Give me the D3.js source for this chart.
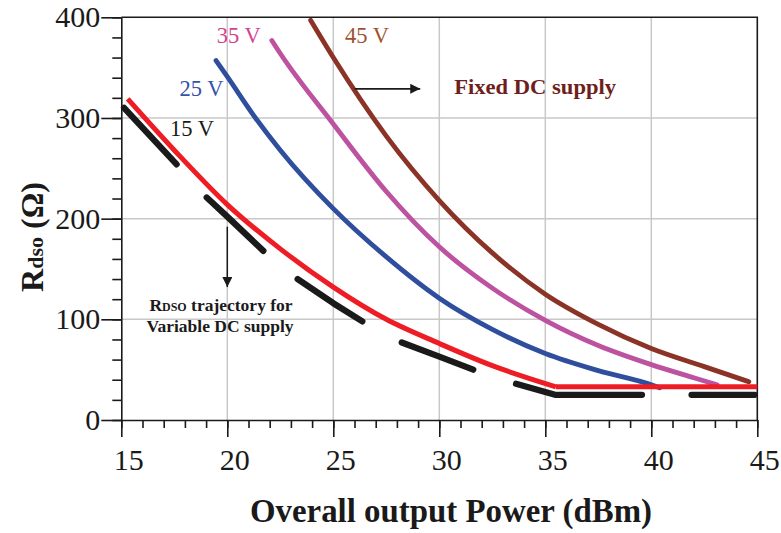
<!DOCTYPE html>
<html lang="en">
<head>
<meta charset="UTF-8">
<title>Rdso vs overall output power</title>
<script src="https://cdn.jsdelivr.net/npm/d3@7/dist/d3.min.js"></script>
<style>
	body { margin: 0; background: #fff; }
	text { font-family: "Liberation Serif", "Times New Roman", serif; }
	.grid line { stroke: #c8c8c8; stroke-width: 1.5; }
	.axis path, .axis line { stroke: #1a1a1a; stroke-width: 1.6; }
	.axis text { font-size: 30px; fill: #1a1a1a; }
</style>
</head>
<body>
<script>
// tick values
var xTicks = [15, 20, 25, 30, 35, 40, 45];
var yTicks = [0, 100, 200, 300, 400];

// fixed DC supply curves [power dBm, Rdso ohm]
var fixed25 = [[19.47, 357], [20, 341], [21.33, 300], [22.5, 268], [25, 210], [27.5, 162], [30, 121], [32.5, 90], [35, 66], [37.5, 49], [40, 35], [40.4, 32]];
var fixed35 = [[22.1, 377], [22.5, 364], [25, 294], [27.5, 227], [30, 172], [32.5, 131], [35, 99], [37.5, 74], [40, 55], [42, 42], [43.1, 35]];
var fixed45 = [[23.93, 397], [25, 360], [27.5, 282], [30, 218], [32.5, 166], [35, 125], [37.5, 95], [40, 71], [42.5, 53], [44.6, 38]];

// variable supply (red) and its dashed trajectory (black pieces)
var variableRed = [[15.3, 319], [17.5, 268], [20, 214], [22.5, 170], [25, 132], [27.5, 100], [30, 76], [32.5, 54], [35.5, 33], [45, 33]];
var redCorner = 8;
var trajectory = [
	[[15.13, 310], [17.61, 254]],
	[[19.03, 221], [20, 202], [21.7, 168]],
	[[23.32, 140], [25, 116], [26.37, 98]],
	[[28.23, 77], [30, 63], [31.6, 50]],
	[[33.62, 36], [35.46, 25], [39.56, 25]],
	[[41.9, 25], [44.88, 25]]
];

var margin = {top: 17.3, left: 121.3, right: 23.7, bottom: 113};
var W = 781, H = 533;
var width = W - margin.left - margin.right;
var height = H - margin.top - margin.bottom;

var svg = d3.select('body').append('svg')
	.attr('width', W)
	.attr('height', H)
	.append('g')
	.attr('transform', 'translate(' + margin.left + ',' + margin.top + ')');

var x = d3.scaleLinear().domain([15, 45]).range([0, width]);
var y = d3.scaleLinear().domain([0, 400]).range([height, 0]);

// grid
svg.append('g').attr('class', 'grid')
	.selectAll('line').data([20, 25, 30, 35, 40]).enter().append('line')
	.attr('x1', function (d) { return x(d); }).attr('x2', function (d) { return x(d); })
	.attr('y1', 0).attr('y2', height);
svg.append('g').attr('class', 'grid')
	.selectAll('line').data([100, 200, 300]).enter().append('line')
	.attr('y1', function (d) { return y(d); }).attr('y2', function (d) { return y(d); })
	.attr('x1', 0).attr('x2', width);

// frame top/right
svg.append('path')
	.attr('d', 'M0,0H' + width + 'V' + height)
	.attr('fill', 'none').attr('stroke', '#1a1a1a').attr('stroke-width', 1.6);

// minor ticks
svg.append('g').attr('class', 'axis')
	.attr('transform', 'translate(0,' + height + ')')
	.call(d3.axisBottom(x).ticks(30).tickSize(8).tickFormat(''))
	.select('.domain').remove();
svg.append('g').attr('class', 'axis')
	.call(d3.axisLeft(y).ticks(20).tickSize(9).tickFormat(''))
	.select('.domain').remove();

// major axes
svg.append('g').attr('class', 'axis')
	.attr('transform', 'translate(0,' + height + ')')
	.call(d3.axisBottom(x).tickValues(xTicks).tickSize(17).tickPadding(12).tickSizeOuter(0))
	.selectAll('text').attr('dx', 7);
svg.append('g').attr('class', 'axis')
	.call(d3.axisLeft(y).tickValues(yTicks).tickSize(20).tickPadding(1).tickSizeOuter(0));

var line = d3.line()
	.x(function (d) { return x(d[0]); })
	.y(function (d) { return y(d[1]); })
	.curve(d3.curveMonotoneX);
var straight = d3.line()
	.x(function (d) { return x(d[0]); })
	.y(function (d) { return y(d[1]); });

// black trajectory pieces
svg.append('g').selectAll('path').data(trajectory).enter().append('path')
	.attr('d', straight)
	.attr('fill', 'none').attr('stroke', '#1a1a1a')
	.attr('stroke-width', 6.3).attr('stroke-linecap', 'round').attr('stroke-linejoin', 'round');

var fixed = [
	{pts: fixed25, color: '#2f4f9e'},
	{pts: fixed35, color: '#bd52a0'},
	{pts: fixed45, color: '#8b3327'}
];
svg.append('g').selectAll('path').data(fixed).enter().append('path')
	.attr('d', function (d) { return line(d.pts); })
	.attr('fill', 'none').attr('stroke', function (d) { return d.color; })
	.attr('stroke-width', 4.8).attr('stroke-linecap', 'round');

// red variable supply curve
svg.append('path')
	.attr('d', line(variableRed.slice(0, redCorner + 1)))
	.attr('fill', 'none').attr('stroke', '#ee1c24').attr('stroke-width', 5);
svg.append('path')
	.attr('d', straight(variableRed.slice(redCorner)))
	.attr('fill', 'none').attr('stroke', '#ee1c24').attr('stroke-width', 5);

// curve labels
var labels = [
	{t: '15 V', px: 17.3, v: 282, c: '#1a1a1a'},
	{t: '25 V', px: 17.75, v: 322, c: '#3553a8'},
	{t: '35 V', px: 19.5, v: 374, c: '#d2448e'},
	{t: '45 V', px: 25.55, v: 374, c: '#a0522d'}
];
svg.append('g').selectAll('text').data(labels).enter().append('text')
	.attr('x', function (d) { return x(d.px); })
	.attr('y', function (d) { return y(d.v); })
	.attr('fill', function (d) { return d.c; })
	.style('font-size', '22.5px')
	.text(function (d) { return d.t; });

// annotations
var defs = svg.append('defs');
defs.append('marker').attr('id', 'arr')
	.attr('viewBox', '0 0 10 10').attr('refX', 10).attr('refY', 5)
	.attr('orient', 'auto')
	.attr('markerUnits', 'userSpaceOnUse')
	.attr('markerWidth', 14).attr('markerHeight', 10)
	.append('path').attr('d', 'M0,0L10,5L0,10Z').attr('fill', '#1a1a1a');

svg.append('line')
	.attr('x1', x(26.0)).attr('x2', x(29.1))
	.attr('y1', y(329)).attr('y2', y(329))
	.attr('stroke', '#1a1a1a').attr('stroke-width', 1.8).attr('marker-end', 'url(#arr)');
svg.append('text')
	.attr('x', x(30.7)).attr('y', y(324))
	.attr('fill', '#6e1f1c').style('font-size', '22px').style('font-weight', 'bold')
	.attr('textLength', 162).attr('lengthAdjust', 'spacingAndGlyphs')
	.text('Fixed DC supply');

svg.append('line')
	.attr('x1', x(20)).attr('x2', x(20))
	.attr('y1', y(192)).attr('y2', y(132))
	.attr('stroke', '#1a1a1a').attr('stroke-width', 1.5).attr('marker-end', 'url(#arr)');
var note = svg.append('text')
	.attr('x', 221 - margin.left).attr('y', y(108))
	.attr('text-anchor', 'middle').attr('fill', '#1a1a1a')
	.style('font-size', '17.5px').style('font-weight', 'bold');
note.append('tspan').text('R');
note.append('tspan').style('font-size', '12px').text('DSO');
note.append('tspan').text(' trajectory for');
svg.append('text')
	.attr('x', 220 - margin.left).attr('y', y(87))
	.attr('text-anchor', 'middle').attr('fill', '#1a1a1a')
	.style('font-size', '17.5px').style('font-weight', 'bold')
	.text('Variable DC supply');

// axis titles
svg.append('text')
	.attr('x', (250 + 652) / 2 - margin.left).attr('y', height + 102)
	.attr('text-anchor', 'middle').attr('fill', '#1a1a1a')
	.style('font-size', '33px').style('font-weight', 'bold')
	.attr('textLength', 402).attr('lengthAdjust', 'spacingAndGlyphs')
	.text('Overall output Power (dBm)');

var yt = svg.append('text')
	.attr('transform', 'translate(' + (43 - margin.left) + ',' + (237 - margin.top) + ') rotate(-90)')
	.attr('text-anchor', 'middle').attr('fill', '#1a1a1a')
	.style('font-size', '32px').style('font-weight', 'bold');
yt.append('tspan').text('R');
yt.append('tspan').style('font-size', '22px').text('dso');
yt.append('tspan').text(' (Ω)');
</script>
</body>
</html>
